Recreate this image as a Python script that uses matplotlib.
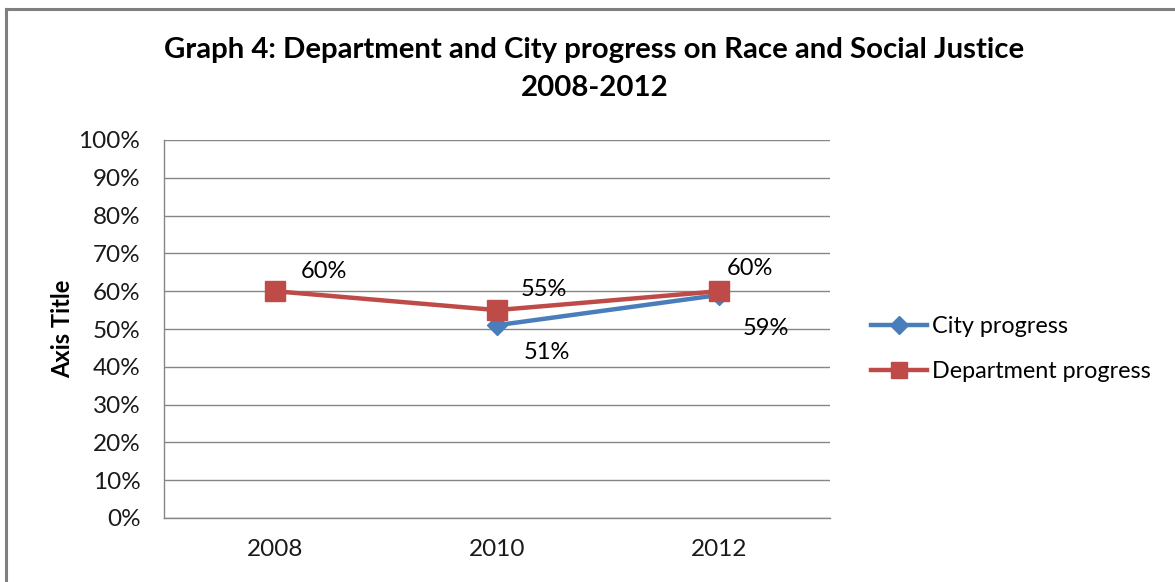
import numpy as np
import matplotlib.pyplot as plt
from matplotlib.lines import Line2D

years = ["2008", "2010", "2012"]
city = [np.nan, 0.51, 0.59]
dept = [0.60, 0.55, 0.60]
city_labels = ["", "51%", "59%"]
dept_labels = ["60%", "55%", "60%"]

blue = "#4A7EBB"
red = "#BE4B48"
grid = "#868686"

plt.rcParams['font.family'] = ['Lato', 'DejaVu Sans']

fig = plt.figure(figsize=(11.75, 5.82), dpi=100)
ax = fig.add_axes([164 / 1175, 1 - 518 / 582, 666 / 1175, 378 / 582])

x = np.arange(len(years))
ax.plot(x, city, color=blue, lw=3.2, marker="D", ms=10, zorder=3)
ax.plot(x, dept, color=red, lw=3.2, marker="s", ms=14, zorder=4)

# value labels beside each marker
dept_off = [(49, 20), (47, 21), (31, 23)]
city_off = [(0, 0), (50, -27), (47, -34)]
for i in range(len(years)):
    ax.annotate(dept_labels[i], (x[i], dept[i]), xytext=dept_off[i],
                textcoords="offset pixels", ha="center", va="center", fontsize=17)
    if city_labels[i]:
        ax.annotate(city_labels[i], (x[i], city[i]), xytext=city_off[i],
                    textcoords="offset pixels", ha="center", va="center", fontsize=17)

ax.set_xlim(-0.5, 2.5)
ax.set_ylim(0, 1)
ax.set_xticks(x)
ax.set_xticklabels(years)
ax.set_yticks(np.arange(0, 1.01, 0.1))
ax.set_yticklabels([f"{int(round(v * 100))}%" for v in np.arange(0, 1.01, 0.1)])
ax.tick_params(length=0, labelsize=17.5, colors="#1a1a1a")
ax.tick_params(axis="y", pad=17)
ax.tick_params(axis="x", pad=15)
ax.yaxis.grid(True, color=grid, lw=1)
ax.set_axisbelow(True)
for s in ["top", "right"]:
    ax.spines[s].set_visible(False)
for s in ["left", "bottom"]:
    ax.spines[s].set_color(grid)
    ax.spines[s].set_linewidth(1)

ax.set_ylabel("Axis Title", fontsize=17, fontweight="bold", labelpad=3.5)

handles = [Line2D([], [], color=blue, lw=3.2, marker="D", ms=9),
           Line2D([], [], color=red, lw=3.2, marker="s", ms=11)]
fig.legend(handles, ["City progress", "Department progress"],
           loc="center left", bbox_to_anchor=(850 / 1175, 1 - 349 / 582),
           frameon=False, fontsize=16.8, handlelength=2.4, handletextpad=0.2,
           labelspacing=1.0)

fig.text(0.506, 1 - 50 / 582, "Graph 4: Department and City progress on Race and Social Justice",
         ha="center", va="center", fontsize=21.2, fontweight="bold")
fig.text(0.506, 1 - 88 / 582, "2008-2012", ha="center", va="center",
         fontsize=21.2, fontweight="bold")

# outer chart frame (top and left edges)
fig.add_artist(Line2D([6 / 1175, 6 / 1175], [0, 1 - 9 / 582], color="#7f7f7f", lw=2.2,
                      transform=fig.transFigure))
fig.add_artist(Line2D([6 / 1175, 1], [1 - 9 / 582, 1 - 9 / 582], color="#7f7f7f", lw=2.2,
                      transform=fig.transFigure))

fig.savefig("out.png", dpi=100)
